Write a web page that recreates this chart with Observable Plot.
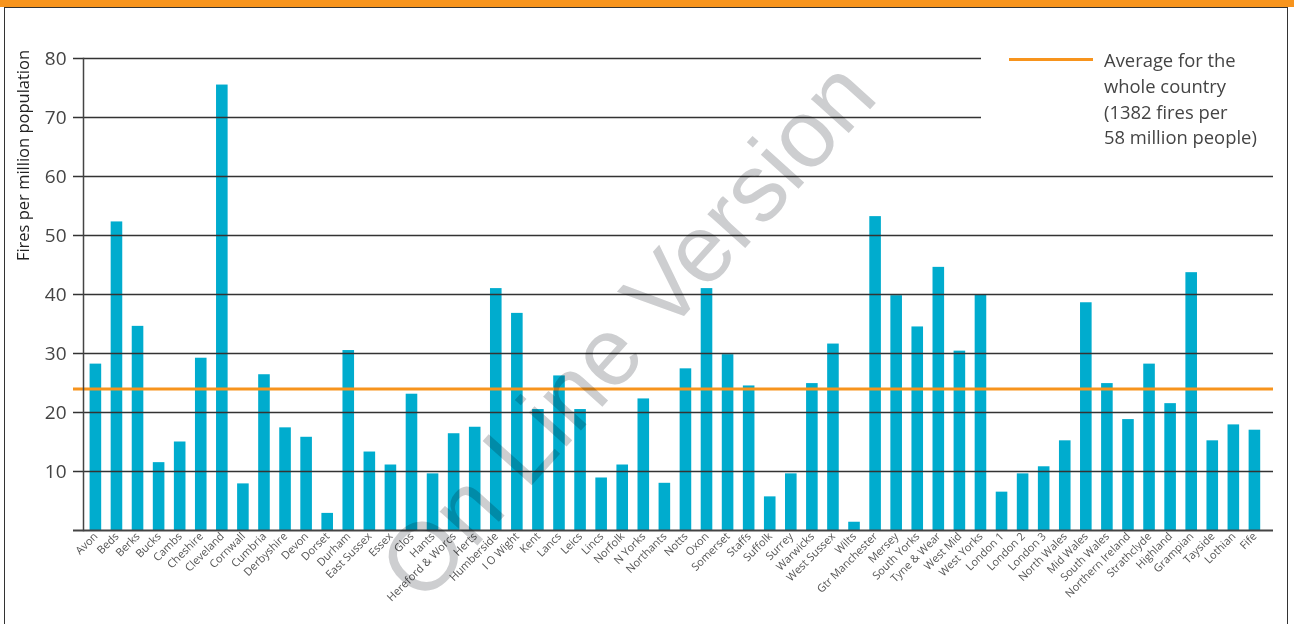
<!DOCTYPE html>
<html>
<head>
<meta charset="utf-8">
<script src="https://cdn.jsdelivr.net/npm/d3@7"></script>
<script src="https://cdn.jsdelivr.net/npm/@observablehq/plot@0.6"></script>
<style>
  html, body { margin: 0; padding: 0; background: #fff; }
  #wrap { position: relative; width: 1294px; height: 624px; overflow: hidden; font-family: 'Open Sans', sans-serif; }
  #band { position: absolute; left: 0; top: 0; width: 1294px; height: 7px; background: #f7941d; }
  #box { position: absolute; left: 4px; top: 7px; width: 1282px; height: 700px; border-left: 1.5px solid #333; border-right: 1.5px solid #333; border-top: 1px solid #333; }
  #chart { position: absolute; left: 0; top: 0; }
  #legend-line { position: absolute; left: 1009px; top: 58px; width: 84px; height: 3px; background: #f7941d; }
  #legend-text { position: absolute; left: 1104px; top: 47px; font-size: 18.4px; line-height: 25.8px; color: #444; white-space: pre; }
  #wm { position: absolute; left: 627px; top: 330px; transform: translate(-50%, -50%) rotate(-48deg); font-family: 'Liberation Sans', Arial, sans-serif; font-size: 96px; color: #cdced0; mix-blend-mode: multiply; white-space: nowrap; line-height: 1; pointer-events: none; }
</style>
</head>
<body>
<div id="wrap">
  <div id="band"></div>
  <div id="box"></div>
  <div id="chart"></div>
  <div id="legend-line"></div>
  <div id="legend-text"></div>
  <div id="wm">On Line Version</div>
</div>
<script>
const categories = ["Avon","Beds","Berks","Bucks","Cambs","Cheshire","Cleveland","Cornwall","Cumbria","Derbyshire","Devon","Dorset","Durham","East Sussex","Essex","Glos","Hants","Hereford & Worcs","Herts","Humberside","I O Wight","Kent","Lancs","Leics","Lincs","Norfolk","N Yorks","Northants","Notts","Oxon","Somerset","Staffs","Suffolk","Surrey","Warwicks","West Sussex","Wilts","Gtr Manchester","Mersey","South Yorks","Tyne & Wear","West Mid","West Yorks","London 1","London 2","London 3","North Wales","Mid Wales","South Wales","Northern Ireland","Strathclyde","Highland","Grampian","Tayside","Lothian","Fife"];
const values = [28.2,52.3,34.6,11.5,15.0,29.2,75.5,7.9,26.4,17.4,15.8,2.9,30.5,13.3,11.1,23.1,9.6,16.4,17.5,41.0,36.8,20.5,26.2,20.5,8.9,11.1,22.3,8.0,27.4,41.0,29.8,24.5,5.7,9.6,24.9,31.6,1.4,53.2,39.8,34.5,44.6,30.4,39.9,6.5,9.6,10.8,15.2,38.6,24.9,18.8,28.2,21.5,43.7,15.2,17.9,17.0];
const average = 24;
const yTickValues = [10,20,30,40,50,60,70,80];
const fullGrid = [10,20,30,40,50,60];
const shortGrid = [70,80];
const yLabel = "Fires per million population";
const legendLines = ["Average for the","whole country","(1382 fires per","58 million people)"];

const data = categories.map((c, i) => ({region: c, value: values[i]}));

const chart = Plot.plot({
  width: 1294,
  height: 624,
  marginLeft: 83,
  marginRight: 21,
  marginTop: 58,
  marginBottom: 94,
  x: {domain: categories, paddingInner: 0.45, paddingOuter: 0.46, align: 0.34, round: false, label: null},
  y: {domain: [0, 80], label: null},
  style: {fontFamily: "'Open Sans', sans-serif", background: "transparent", overflow: "visible"},
  marks: [
    Plot.barY(data, {x: "region", y: "value", fill: "#00acce"}),
    Plot.ruleY(fullGrid, {stroke: "#333", strokeWidth: 1.4, insetLeft: -10}),
    Plot.ruleY(shortGrid, {stroke: "#333", strokeWidth: 1.4, insetLeft: -10, insetRight: 292}),
    Plot.ruleY([average], {stroke: "#f7941d", strokeWidth: 3, insetLeft: -10}),
    Plot.ruleY([0], {stroke: "#444", strokeWidth: 2, insetLeft: -10}),
    Plot.frame({anchor: "left", stroke: "#444", strokeWidth: 1.5}),
    Plot.axisY(yTickValues, {tickSize: 0, tickPadding: 17, fontSize: 19, fill: "#444", label: null}),
    Plot.axisX({tickSize: 0, tickPadding: 4, tickRotate: -45, fontSize: 11, fill: "#555", label: null}),
    Plot.text([yLabel], {frameAnchor: "top-left", rotate: -90, dx: -66, dy: 97, fontSize: 16.5, fill: "#222", textAnchor: "middle"})
  ]
});
document.getElementById("chart").appendChild(chart);
document.getElementById("legend-text").textContent = legendLines.join("\n");
</script>
</body>
</html>
